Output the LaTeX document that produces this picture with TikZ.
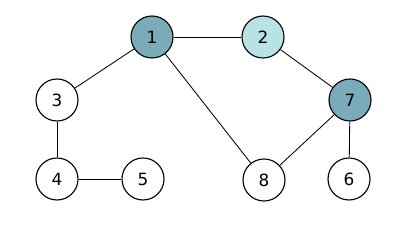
\documentclass[tikz,border=0pt]{standalone}
\usepackage{fontspec}
\setmainfont{DejaVu Sans}
\usepackage{tikz}
\usetikzlibrary{positioning}
\definecolor{tealdark}{HTML}{7AABB8}
\definecolor{teallight}{HTML}{B9E2E4}

\begin{document}
\begin{tikzpicture}[
  vert/.style    = {circle, draw, thick, fill=white, minimum size=1.05cm,
                    inner sep=0pt, font=\large},
  hot/.style     = {vert, fill=tealdark},
  warm/.style    = {vert, fill=teallight},
  edge/.style    = {semithick},
]
\useasboundingbox (0,0) rectangle (10,6.1);
\node[hot]  (v1) at (3.8, 5.175)   {1};
\node[warm] (v2) at (6.575, 5.175) {2};
\node[vert] (v3) at (1.425, 3.6)   {3};
\node[vert] (v4) at (1.425, 1.625) {4};
\node[vert] (v5) at (3.575, 1.625) {5};
\node[hot]  (v7) at (8.75, 3.6)    {7};
\node[vert] (v8) at (6.6, 1.6)     {8};
\node[vert] (v6) at (8.725, 1.625) {6};
\draw[edge] (v1) -- (v2);
\draw[edge] (v1) -- (v3);
\draw[edge] (v1) -- (v8);
\draw[edge] (v2) -- (v7);
\draw[edge] (v3) -- (v4);
\draw[edge] (v4) -- (v5);
\draw[edge] (v7) -- (v8);
\draw[edge] (v7) -- (v6);
\end{tikzpicture}
\end{document}
